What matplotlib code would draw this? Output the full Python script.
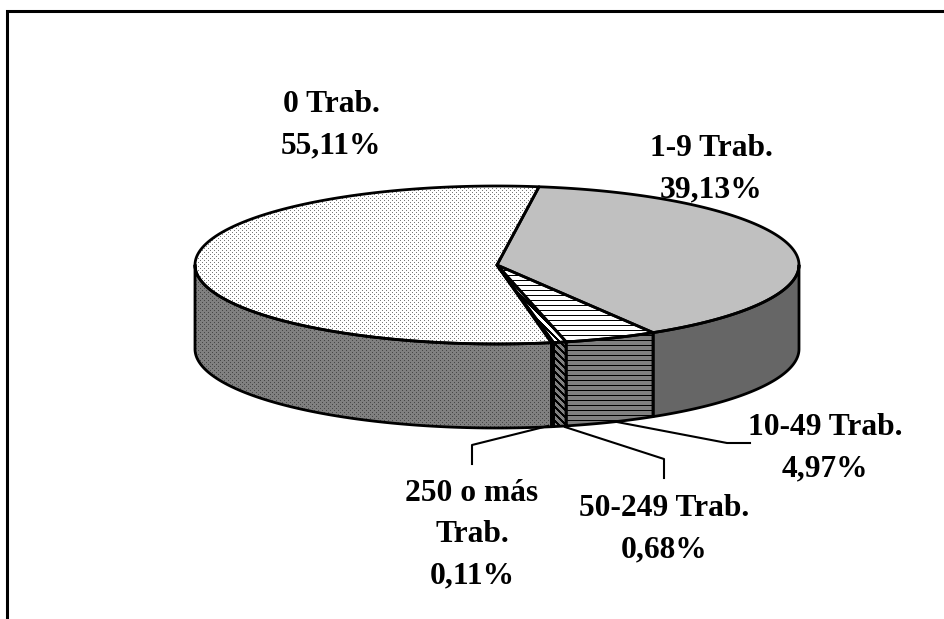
# pie 3D por tamano de empresa, con tramas en gris
import numpy as np
import matplotlib
matplotlib.use('Agg')
import matplotlib.pyplot as plt
from matplotlib.patches import Polygon

categories = ['1-9 Trab.', '10-49 Trab.', '50-249 Trab.', '250 o más\nTrab.', '0 Trab.']
shares = [39.13, 4.97, 0.68, 0.11, 55.11]

W, H = 945, 619
cx, cy = 497, 265
a, b = 302, 79
depth = 84
start = 82

label_pos = [(711, 169), (825, 448), (664, 529), (472, 535), (331, 125)]
leaders = [None,
           [(617, 422), (727, 443), (750, 443)],
           [(565, 427), (664, 459), (664, 478)],
           [(548, 426), (472, 445), (472, 464)],
           None]

yy, xx = np.mgrid[0:H, 0:W]

def dots(bg, fg):
	t = np.full((H, W), bg, dtype=float)
	t[((yy % 4 == 0) & (xx % 4 == 0)) | ((yy % 4 == 2) & (xx % 4 == 2))] = fg
	return t

def hlines(bg, fg, period=5):
	t = np.full((H, W), bg, dtype=float)
	t[yy % period == 0] = fg
	return t

def diag(bg, fg):
	t = np.full((H, W), bg, dtype=float)
	t[(xx - yy) % 7 < 3] = fg
	return t

tops = [np.full((H, W), 192.0), hlines(255, 0), diag(255, 0), diag(255, 0), dots(255, 120)]
sides = [np.full((H, W), 102.0), hlines(128, 0), diag(128, 0), diag(128, 0), dots(128, 70)]

def ell(t):
	t = np.radians(t)
	return cx + a * np.cos(t), cy - b * np.sin(t)

def textured(ax, tex, pts):
	im = ax.imshow(tex, cmap='gray', vmin=0, vmax=255, extent=(0, W, H, 0),
		interpolation='nearest', aspect='auto', zorder=1)
	poly = Polygon(pts, closed=True, transform=ax.transData)
	im.set_clip_path(poly)
	ax.add_patch(Polygon(pts, closed=True, fill=False, ec='black', lw=2,
		joinstyle='round', zorder=2))

fig = plt.figure(figsize=(W / 100, H / 100), dpi=100)
ax = fig.add_axes([0, 0, 1, 1])

# angulos de cada porcion, en sentido horario
edges = start - np.cumsum([0] + shares) * 3.6

for i in range(len(shares)):
	t0, t1 = edges[i], edges[i + 1]
	ts = np.linspace(t0, t1, 200)
	x, y = ell(ts)

	# pared lateral: solo la parte de delante (180 a 360 grados)
	lo = max(t1, -180)
	hi = min(t0, 0)
	if lo < hi:
		ws = np.linspace(hi, lo, 200)
		wx, wy = ell(ws)
		pts = np.column_stack([np.r_[wx, wx[::-1]], np.r_[wy, wy[::-1] + depth]])
		textured(ax, sides[i], pts)

	pts = np.column_stack([np.r_[cx, x], np.r_[cy, y]])
	textured(ax, tops[i], pts)

	if leaders[i]:
		lx, ly = zip(*leaders[i])
		ax.plot(lx, ly, color='black', lw=1.5, zorder=3)

	txt = categories[i] + '\n' + f'{shares[i]:.2f}'.replace('.', ',') + '%'
	ax.text(label_pos[i][0], label_pos[i][1], txt, ha='center', va='center',
		family='Liberation Serif', weight='bold', fontsize=22.7, linespacing=1.56,
		color='black', zorder=4)

# marco: solo arriba y a la izquierda
ax.plot([7, 7, W], [H, 11, 11], color='black', lw=2.2, solid_joinstyle='miter', zorder=5)

ax.set_xlim(0, W)
ax.set_ylim(H, 0)
ax.axis('off')
fig.savefig('out.png', dpi=100)
